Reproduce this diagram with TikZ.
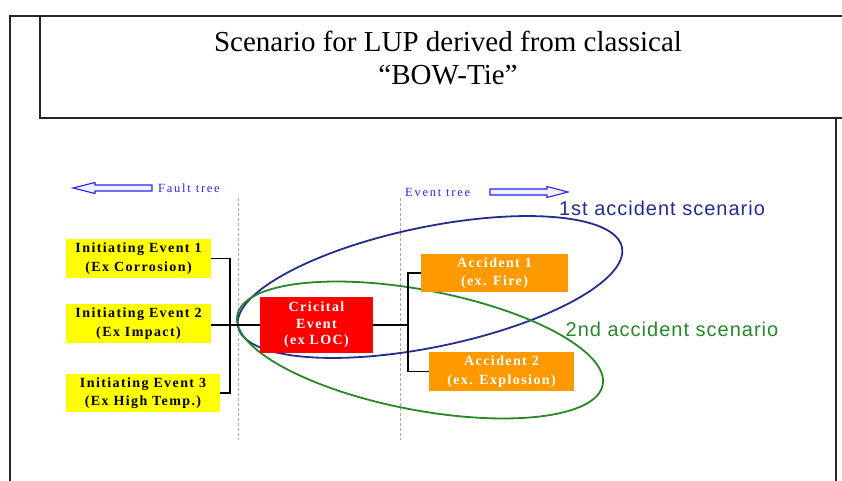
\documentclass[tikz,border=0pt]{standalone}
\usepackage{fontspec}
\setmainfont{Liberation Serif}
\newfontfamily\boxfont[LetterSpace=10]{Liberation Serif}
\newfontfamily\treefont[LetterSpace=14]{Liberation Serif}
\newfontfamily\scenfont[LetterSpace=5]{Liberation Sans}
\definecolor{ievent}{RGB}{255,255,0}
\definecolor{crit}{RGB}{255,0,0}
\definecolor{accid}{RGB}{255,153,0}
\definecolor{treeblue}{RGB}{40,40,235}
\definecolor{scenA}{RGB}{35,45,140}
\definecolor{scenB}{RGB}{40,135,40}
\definecolor{guide}{RGB}{170,170,170}
\tikzset{
  frameline/.style={line width=1.4pt, draw=black!85},
  evbox/.style={rectangle, inner sep=0pt, align=center,
    font=\boxfont\bfseries\fontsize{14}{18.5}\selectfont},
  initbox/.style={evbox, fill=ievent, text=black},
  critbox/.style={evbox, fill=crit, text=white},
  accbox/.style={evbox, fill=accid, text=white},
  conn/.style={draw=black, line width=1.3pt},
  guideline/.style={draw=guide, line width=1pt, dash pattern=on 3pt off 2pt},
  scenring/.style={line width=1.8pt},
  hollowarrow/.style={draw=treeblue, fill=blue!6, line width=1.1pt, line join=miter},
  treelabel/.style={text=treeblue, inner sep=0pt, font=\treefont\fontsize{12.5}{14}\selectfont},
  scenlabel/.style={inner sep=0pt, font=\scenfont\fontsize{20}{22}\selectfont}
}
\begin{document}
\begin{tikzpicture}[x=1pt, y=-1pt]
\useasboundingbox (0,0) rectangle (842,481);
\fill[white] (0,0) rectangle (842,481);

% page frame and title box
\draw[frameline] (10,481) -- (10,16) -- (40,16);
\draw[frameline] (842,16) -- (40,16) -- (40,118) -- (842,118);
\draw[frameline] (836,118) -- (836,481);
\node[align=center, inner sep=0pt, font=\fontsize{29}{33}\selectfont] (title) at (448,58)
  {Scenario for LUP derived from classical\\“BOW-Tie”};

% fault tree / event tree direction markers
\draw[hollowarrow] (73,188) -- (95,182.5) -- (95,185) -- (152,185) -- (152,191)
  -- (95,191) -- (95,193.5) -- cycle;
\node[treelabel, anchor=west] (ftlabel) at (158,188) {Fault tree};
\node[treelabel, anchor=west] (etlabel) at (405,192) {Event tree};
\draw[hollowarrow] (568,192) -- (547,186.5) -- (547,189) -- (490,189) -- (490,195)
  -- (547,195) -- (547,197.5) -- cycle;

% dashed boundaries of the critical event zone
\draw[guideline] (238,198) -- (238,440);
\draw[guideline] (400,198) -- (400,440);

% scenario rings
\draw[scenring, draw=scenA] [rotate around={11.7:(430,287)}]
  (430,287) ellipse [x radius=196, y radius=60];
\draw[scenring, draw=scenB] [rotate around={-10.8:(420,350)}]
  (420,350) ellipse [x radius=186, y radius=60];
\node[scenlabel, text=scenA] (scen1) at (662,208) {1st accident scenario};
\node[scenlabel, text=scenB] (scen2) at (672,329) {2nd accident scenario};

% events
\node[initbox, minimum width=145pt, minimum height=39pt] (ie1) at (138.5,258.5)
  {Initiating Event 1\\(Ex Corrosion)};
\node[initbox, minimum width=145pt, minimum height=39pt] (ie2) at (138.5,323.5)
  {Initiating Event 2\\(Ex Impact)};
\node[initbox, minimum width=154pt, minimum height=38pt] (ie3) at (143,393)
  {Initiating Event 3\\(Ex High Temp.)};
\node[critbox, minimum width=113pt, minimum height=56pt, font=\boxfont\bfseries\fontsize{14}{16.5}\selectfont] (ce) at (316.5,325)
  {Cricital\\Event\\(ex LOC)};
\node[accbox, minimum width=147pt, minimum height=38pt] (acc1) at (494.5,273)
  {Accident 1\\(ex. Fire)};
\node[accbox, minimum width=145pt, minimum height=39pt] (acc2) at (501.5,371.5)
  {Accident 2\\(ex. Explosion)};

% connectors
\coordinate (jl) at (230,325);
\coordinate (jr) at (408,325);
\draw[conn] (ie1.east) -| (jl) |- (ie3.east);
\draw[conn] (ie2.east |- jl) -- (ce.west);
\draw[conn] (ce.east) -- (jr);
\draw[conn] (acc1.west) -| (jr) |- (acc2.west);
\end{tikzpicture}
\end{document}
